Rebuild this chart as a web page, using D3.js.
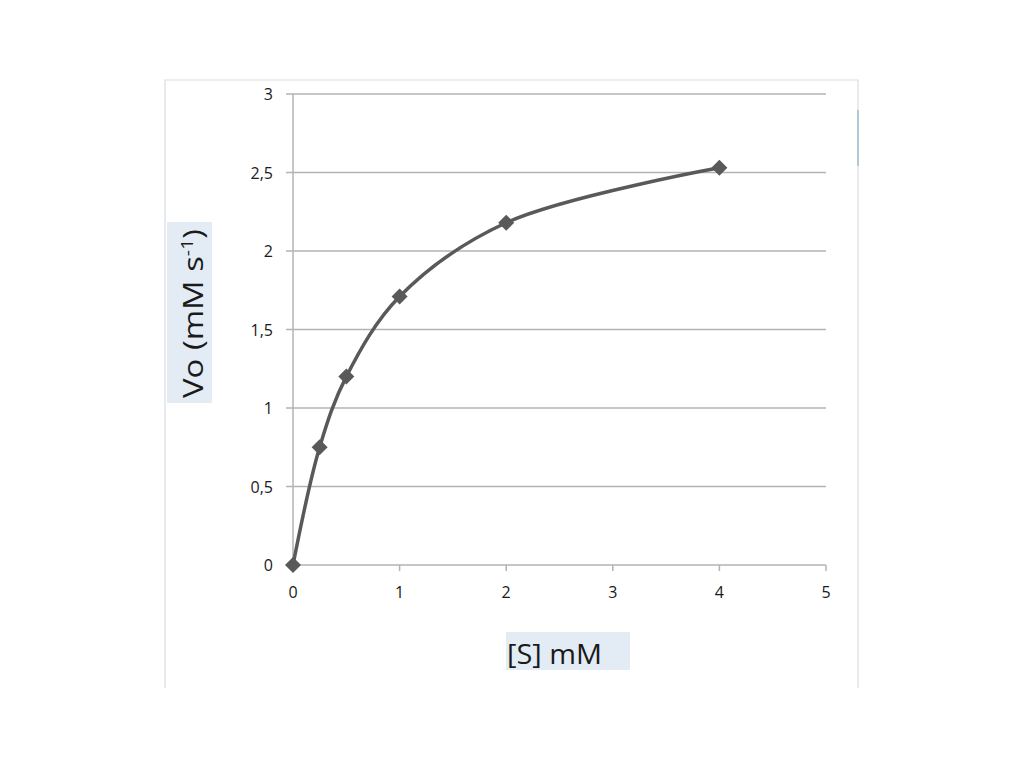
<!DOCTYPE html>
<html><head><meta charset="utf-8">
<script src="https://cdn.jsdelivr.net/npm/d3@7"></script>
<style>body{margin:0;background:#fff}svg{display:block}</style>
</head><body>
<svg id="c" width="1024" height="768"></svg>
<script>
const substrate = [0, 0.25, 0.5, 1, 2, 4];
const velocity = [0, 0.75, 1.2, 1.71, 2.18, 2.53];
const xTicks = [0, 1, 2, 3, 4, 5];
const yTicks = [0, 0.5, 1, 1.5, 2, 2.5, 3];
const xTitle = "[S] mM";

const svg = d3.select("#c");
const font = "'Open Sans', 'Liberation Sans', sans-serif";

// outer frame
svg.append("path").attr("d","M165,688 V80 H858 V688").attr("fill","none").attr("stroke","#d9dee3").attr("stroke-width",1.2);
svg.append("line").attr("x1",858).attr("x2",858).attr("y1",110).attr("y2",166).attr("stroke","#8fb0c4").attr("stroke-width",1.2);

const x = d3.scaleLinear().domain([0,5]).range([293,826]);
const y = d3.scaleLinear().domain([0,3]).range([565,94]);

// gridlines
svg.append("g").selectAll("line").data(yTicks).join("line")
  .attr("x1",286).attr("x2",826).attr("y1",d=>y(d)).attr("y2",d=>y(d))
  .attr("stroke","#b3b3b3").attr("stroke-width",1.5);
// y axis line
svg.append("line").attr("x1",293).attr("x2",293).attr("y1",94).attr("y2",565).attr("stroke","#b3b3b3").attr("stroke-width",1.5);
// x ticks
svg.append("g").selectAll("line").data(xTicks).join("line")
  .attr("x1",d=>x(d)).attr("x2",d=>x(d)).attr("y1",565).attr("y2",571)
  .attr("stroke","#b3b3b3").attr("stroke-width",1.5);

const fmt = d => String(d).replace(".", ",");
svg.append("g").selectAll("text").data(yTicks).join("text")
  .attr("x",273).attr("y",d=>y(d)+6).attr("text-anchor","end")
  .attr("font-family",font).attr("font-size",16).attr("fill","#1a1a1a").text(fmt);
svg.append("g").selectAll("text").data(xTicks).join("text")
  .attr("x",d=>x(d)).attr("y",598).attr("text-anchor","middle")
  .attr("font-family",font).attr("font-size",16).attr("fill","#1a1a1a").text(fmt);

// axis titles
svg.append("rect").attr("x",167).attr("y",222).attr("width",45).attr("height",181).attr("fill","#e3ecf5");
const yt = svg.append("text").attr("transform","translate(203,398) rotate(-90)").attr("text-anchor","start")
  .attr("font-family",font).attr("font-size",27).attr("fill","#1a1a1a")
  .attr("textLength",169).attr("lengthAdjust","spacingAndGlyphs");
yt.append("tspan").text("Vo (mM s");
yt.append("tspan").attr("dy",-10).attr("font-size",16).text("-1");
yt.append("tspan").attr("dy",10).text(")");

svg.append("rect").attr("x",506).attr("y",632).attr("width",124).attr("height",38).attr("fill","#e3ecf5");
svg.append("text").attr("x",507).attr("y",664).attr("font-family",font).attr("font-size",27).attr("fill","#1a1a1a")
  .attr("textLength",95).attr("lengthAdjust","spacingAndGlyphs").text(xTitle);

// data
const pts = substrate.map((s,i)=>[s, velocity[i]]);
svg.append("path").datum(pts)
  .attr("d", d3.line().x(d=>x(d[0])).y(d=>y(d[1])).curve(d3.curveCatmullRom.alpha(0.5)))
  .attr("fill","none").attr("stroke","#595959").attr("stroke-width",3.5);
svg.append("g").selectAll("path").data(pts).join("path")
  .attr("transform",d=>`translate(${x(d[0])},${y(d[1])}) rotate(45)`)
  .attr("d", d3.symbol(d3.symbolSquare, 128)())
  .attr("fill","#595959");
</script>
</body></html>
